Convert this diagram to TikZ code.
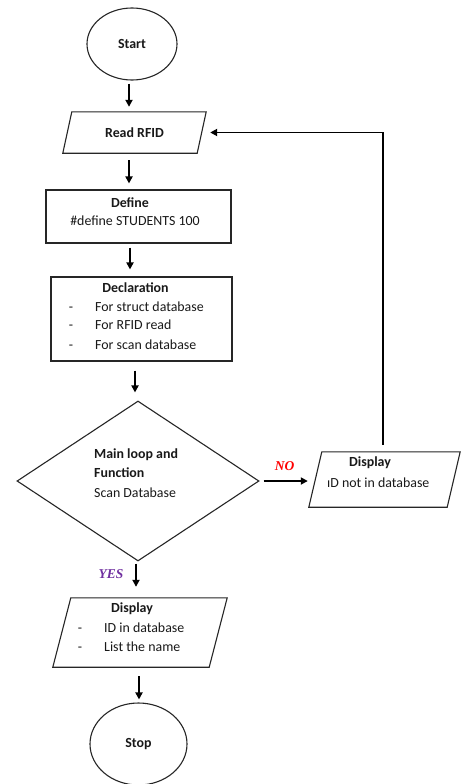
\documentclass[tikz,border=0pt]{standalone}
\usepackage{fontspec}
\setmainfont{Carlito}
\newfontfamily\answerfont{Liberation Serif}
\usetikzlibrary{shapes.geometric,arrows.meta}
\definecolor{nored}{RGB}{255,0,0}
\definecolor{yespurple}{RGB}{112,48,160}

% parallelogram drawn around a (borderless) rectangle node; #2 = half the slant
\newcommand\drawpara[2]{%
  \draw[outline] ([xshift=-#2]#1.south west) -- ([xshift=#2]#1.north west)
    -- ([xshift=#2]#1.north east) -- ([xshift=-#2]#1.south east) -- cycle;}

\begin{document}
\begin{tikzpicture}[x=1pt,y=-1pt,
  outline/.style={draw=black!85, line width=1.1pt},
  flow/.style={draw=black, line width=1.8pt, -{Triangle[length=7pt,width=7pt]}},
  txt/.style={inner sep=0pt, font=\fontsize{13.9}{19}\selectfont, text=black!90},
  hd/.style={inner sep=0pt, font=\fontsize{13.9}{19}\selectfont\bfseries, text=black!90},
  answer/.style={inner sep=0pt, font=\answerfont\fontsize{13.5}{16}\selectfont\bfseries\itshape},
  frame/.style={draw=none, inner sep=0pt}
]
\useasboundingbox (0,0) rectangle (461,784);
\fill[white] (0,0) rectangle (461,784);

% terminals
\node[ellipse, outline, hd, minimum width=90pt, minimum height=72pt] (start) at (132,44) {Start};
\node[ellipse, outline, hd, minimum width=97pt, minimum height=82pt] (stop) at (138.5,744) {Stop};

% input
\node[frame, hd, minimum width=134pt, minimum height=41pt] (read) at (134.5,132.5) {Read RFID};
\drawpara{read}{4.5pt}

% define block
\node[rectangle, outline, minimum width=185pt, minimum height=53pt] (define) at (138.5,216.5) {};
\node[hd, anchor=base] (definehd) at (130,207) {Define};
\node[txt, anchor=base] (defineln) at (135,225) {\#define STUDENTS 100};

% declaration block
\node[rectangle, outline, minimum width=181pt, minimum height=84pt] (decl) at (141.5,319) {};
\node[hd, anchor=base] (declhd) at (135.5,292) {Declaration};
\node[txt, anchor=base] (declda) at (71,311) {-};
\node[txt, anchor=base west] (declia) at (95,311) {For struct database};
\node[txt, anchor=base] (decldb) at (71,329) {-};
\node[txt, anchor=base west] (declib) at (95,329) {For RFID read};
\node[txt, anchor=base] (decldc) at (71,349) {-};
\node[txt, anchor=base west] (declic) at (95,349) {For scan database};

% decision
\node[diamond, outline, inner sep=0pt, minimum width=242pt, minimum height=160pt] (loop) at (138,481) {};
\node[hd, anchor=base west] (loopa) at (94,458) {Main loop and};
\node[hd, anchor=base west] (loopb) at (94,477) {Function};
\node[txt, anchor=base west] (loopc) at (94,497) {Scan Database};

% output: not found
\node[frame, minimum width=138pt, minimum height=55pt] (dispno) at (384.5,479.5) {};
\drawpara{dispno}{6.5pt}
\node[hd, anchor=base] (dispnohd) at (370,466) {Display};
\node[txt, anchor=base west] (dispnoln) at (327,487) {ıD not in database};

% output: found
\node[frame, minimum width=156pt, minimum height=69pt] (dispyes) at (140,632.5) {};
\drawpara{dispyes}{9pt}
\node[hd, anchor=base] (dispyeshd) at (132,612) {Display};
\node[txt, anchor=base] (dispyesda) at (80,632) {-};
\node[txt, anchor=base west] (dispyesia) at (104,632) {ID in database};
\node[txt, anchor=base] (dispyesdb) at (80,651) {-};
\node[txt, anchor=base west] (dispyesib) at (104,651) {List the name};

% branch labels
\node[answer, text=nored, anchor=base] (nolbl) at (284.5,470) {NO};
\node[answer, text=yespurple, anchor=base] (yeslbl) at (111,578) {YES};

% connectors
\draw[flow, shorten <=3pt, shorten >=5pt]
  ([xshift=-3pt]start.south) -- ([xshift=-3pt]start.south |- read.north);
\draw[flow, shorten <=7pt, shorten >=6pt]
  ([xshift=-5.5pt]read.south) -- ([xshift=-5.5pt]read.south |- define.north);
\draw[flow, shorten <=4pt, shorten >=7pt]
  ([xshift=-8.5pt]define.south) -- ([xshift=-8.5pt]define.south |- decl.north);
\draw[flow, shorten <=9pt, shorten >=8pt]
  ([xshift=-6.5pt]decl.south) -- ([xshift=-6.5pt]decl.south |- loop.north);
\draw[flow, shorten <=4pt, shorten >=7.5pt]
  (loop.east) -- (loop.east -| dispno.west);
\draw[flow, shorten <=7pt, shorten >=8.5pt]
  ([xshift=-1.5pt]dispno.north) |- (read.east);
\draw[flow, shorten <=2pt, shorten >=11pt]
  ([xshift=-2pt]loop.south) -- ([xshift=-2pt]loop.south |- dispyes.north);
\draw[flow, shorten <=9pt, shorten >=3pt]
  ([xshift=-1pt]dispyes.south) -- ([xshift=-1pt]dispyes.south |- stop.north);
\end{tikzpicture}
\end{document}
